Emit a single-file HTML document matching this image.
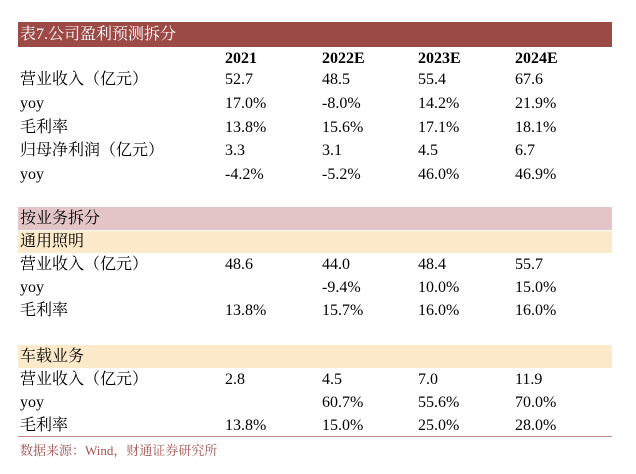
<!DOCTYPE html>
<html><head><meta charset="utf-8"><style>
body{margin:0;width:636px;height:474px;background:#fff;position:relative;overflow:hidden;font-family:"Liberation Serif","Noto Serif CJK SC",serif;color:#000}
.a{position:absolute;font-size:16px;line-height:22px;white-space:nowrap}
.bar{position:absolute;left:18px;width:594px}
.b{font-weight:bold}
</style></head><body>
<div class="bar" style="top:22px;height:25px;background:#9b4a46"></div>
<div class="a" style="left:20px;top:24px;color:#fff">表7.公司盈利预测拆分</div>
<div class="bar" style="top:207px;height:23px;background:#e3c5c7"></div>
<div class="bar" style="top:231px;height:22px;background:#fdeacb"></div>
<div class="bar" style="top:345px;height:23px;background:#fdeacb"></div>
<div class="bar" style="top:436px;height:1px;background:#c08a8a"></div>
<div id="t"></div>
<div class="a" style="left:20px;top:440px;font-size:13px;color:#a4524e">数据来源：Wind，财通证券研究所</div>
<script>
const cols=[225,322,418,515];
const rows=[
[48,["","2021","2022E","2023E","2024E"],1],
[69,["营业收入（亿元）","52.7","48.5","55.4","67.6"]],
[93,["yoy","17.0%","-8.0%","14.2%","21.9%"]],
[117,["毛利率","13.8%","15.6%","17.1%","18.1%"]],
[140,["归母净利润（亿元）","3.3","3.1","4.5","6.7"]],
[164,["yoy","-4.2%","-5.2%","46.0%","46.9%"]],
[208,["按业务拆分","","","",""]],
[231,["通用照明","","","",""]],
[254,["营业收入（亿元）","48.6","44.0","48.4","55.7"]],
[277,["yoy","","-9.4%","10.0%","15.0%"]],
[300,["毛利率","13.8%","15.7%","16.0%","16.0%"]],
[346,["车载业务","","","",""]],
[369,["营业收入（亿元）","2.8","4.5","7.0","11.9"]],
[392,["yoy","","60.7%","55.6%","70.0%"]],
[415,["毛利率","13.8%","15.0%","25.0%","28.0%"]]];
const t=document.getElementById('t');
rows.forEach((r,i)=>{r[1].forEach((v,j)=>{if(!v)return;
const d=document.createElement('div');


d.className='a'+(r[2]?' b':'');
d.style.left=(j==0?20:cols[j-1])+'px';d.style.top=r[0]+'px';d.textContent=v;t.appendChild(d);});});
</script>
</body></html>
